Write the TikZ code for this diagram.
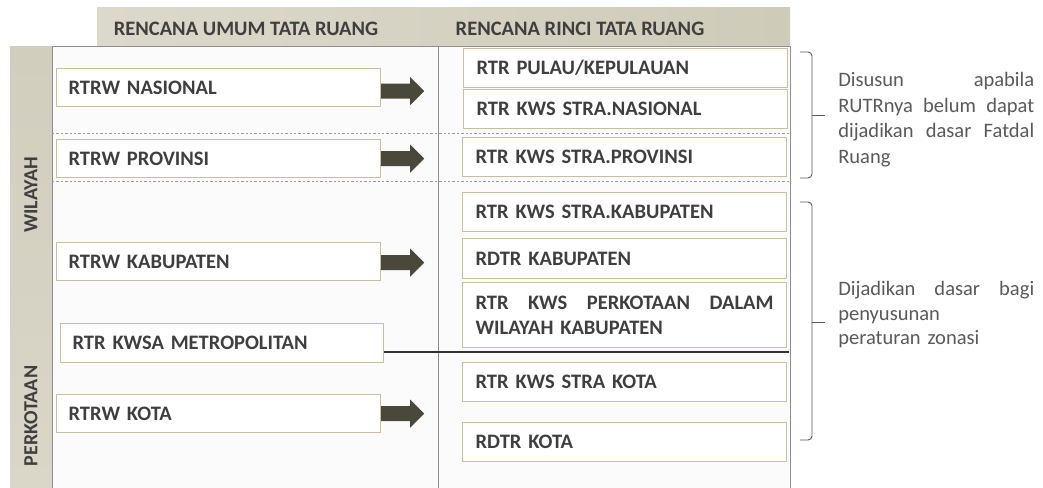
\documentclass[tikz,border=0pt]{standalone}
\usepackage{fontspec}
\setmainfont{Carlito}
\usetikzlibrary{calc}
\definecolor{boxline}{HTML}{C9C19E}
\definecolor{boxtext}{HTML}{3F3F3F}
\definecolor{hdrA}{HTML}{DCD9CC}
\definecolor{hdrB}{HTML}{CFCBB9}
\definecolor{bandA}{HTML}{D2CEBE}
\definecolor{bandB}{HTML}{BAB5A1}
\definecolor{bandC}{HTML}{DAD6C8}
\definecolor{arrowc}{HTML}{4A473B}
\definecolor{tableline}{HTML}{8E8E8E}
\definecolor{dashc}{HTML}{9A9AA2}
\definecolor{notec}{HTML}{5A5A5A}
\begin{document}
\begin{tikzpicture}[x=0.75pt,y=0.75pt,
  lbox/.style={draw=boxline, fill=white, line width=0.9pt, anchor=north west,
    text width=300*0.75pt, inner xsep=12*0.75pt, inner ysep=0pt, align=left,
    minimum height=38*0.75pt, text=boxtext, font=\fontsize{15.4pt}{18pt}\selectfont\bfseries},
  rbox/.style={lbox, text width=298*0.75pt, inner xsep=13*0.75pt, minimum height=39*0.75pt},
  hdrtext/.style={text=boxtext, font=\fontsize{15.4pt}{18pt}\selectfont\bfseries},
  bandtext/.style={text=boxtext, rotate=90, font=\fontsize{15pt}{18pt}\selectfont\bfseries},
  blockarrow/.style={fill=arrowc},
  dashline/.style={draw=dashc, line width=0.6pt, dash pattern=on 1.8pt off 1.5pt},
  braceline/.style={draw=notec, line width=0.7pt, rounded corners=3pt},
  notetext/.style={anchor=north west, text=notec, inner sep=0pt, text width=196*0.75pt,
    font=\fontsize{15.4pt}{19.3pt}\selectfont}
]
\useasboundingbox (0,0) rectangle (1043,-488);
\fill[white] (0,0) rectangle (1043,-488);
% header band
\shade[left color=hdrA, right color=hdrB] (97,-8) rectangle (790,-47);
\node[hdrtext] (hu) at (246,-29) {RENCANA UMUM TATA RUANG};
\node[hdrtext] (hr) at (580,-29) {RENCANA RINCI TATA RUANG};
% left band
\shade[top color=bandA, middle color=bandB, bottom color=bandC] (10,-47) rectangle (52,-488);
\node[bandtext] (wil) at (31,-195) {WILAYAH};
\node[bandtext] (perk) at (31,-416) {PERKOTAAN};
% table
\fill[white!97!gray] (52,-47) rectangle (790,-488);
\draw[tableline, line width=0.75pt] (52,-488) -- (52,-47) -- (790,-47) -- (790,-488);
\draw[tableline, line width=0.75pt] (438,-47) -- (438,-488);
\draw[dashline] (52,-133) -- (790,-133);
\draw[dashline] (52,-181) -- (790,-181);
% left boxes
\node[lbox] (nas) at (56,-68) {RTRW NASIONAL};
\node[lbox] (prov) at (56,-139) {RTRW PROVINSI};
\node[lbox] (kab) at (56,-242) {RTRW KABUPATEN};
\node[lbox, text width=299*0.75pt, minimum height=39*0.75pt] (kwsa) at (60,-323) {RTR KWSA METROPOLITAN};
\node[lbox] (kota) at (56,-394) {RTRW KOTA};
% right boxes
\node[rbox] (pulau) at (463,-48) {RTR PULAU/KEPULAUAN};
\node[rbox] (ksnas) at (463,-89) {RTR KWS STRA.NASIONAL};
\node[rbox] (ksprov) at (462,-137) {RTR KWS STRA.PROVINSI};
\node[rbox] (kskab) at (462,-192) {RTR KWS STRA.KABUPATEN};
\node[rbox, minimum height=40*0.75pt] (rdkab) at (462,-238) {RDTR KABUPATEN};
\node[rbox, minimum height=65*0.75pt, font=\fontsize{15.4pt}{18.75pt}\selectfont\bfseries] (kperk) at (462,-282) {RTR\hfill KWS\hfill PERKOTAAN\hfill DALAM\\WILAYAH KABUPATEN};
\node[rbox] (kskota) at (462,-362) {RTR KWS STRA KOTA};
\node[rbox] (rdkota) at (462,-422) {RDTR KOTA};
% line from metropolitan
\coordinate (mend) at (789,-352);
\draw[black!80, line width=0.9pt] (kwsa.east |- mend) -- (mend);
% block arrows
\foreach \n/\dy in {nas/-3.5, prov/0, kab/-1, kota/0}{
  \fill[blockarrow] (\n.east) ++(0,\dy) ++(0,7.5) -- ++(29,0) -- ++(0,6.5) -- ++(14,-14)
    -- ++(-14,-14) -- ++(0,6.5) -- ++(-29,0) -- cycle;
}
% braces
\draw[braceline] (800,-52) -- (812,-52) -- (812,-115) -- (812,-178) -- (800,-178);
\draw[braceline] (812,-115) -- (825,-115);
\coordinate (b1) at (825,-115);
\draw[braceline] (800,-202) -- (812,-202) -- (812,-322) -- (812,-440) -- (800,-440);
\draw[braceline] (812,-322) -- (825,-322);
\coordinate (b2) at (825,-322);
% notes
\node[notetext] (n1) at (838,-72) {Disusun\hfill apabila\\RUTRnya\hfill belum\hfill dapat\\dijadikan\hfill dasar\hfill Fatdal\\Ruang};
\node[notetext, font=\fontsize{15.4pt}{18.4pt}\selectfont] (n2) at (838,-281) {Dijadikan\hfill dasar\hfill bagi\\penyusunan\\peraturan zonasi};
\end{tikzpicture}
\end{document}
